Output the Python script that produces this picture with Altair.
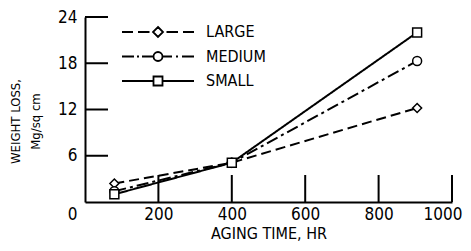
import altair as alt
import pandas as pd

# ---- data ----
series = ["LARGE", "MEDIUM", "SMALL"]
hours = [80, 400, 905]
large = [2.4, 5.1, 12.2]
medium = [1.4, 5.1, 18.3]
small = [1.0, 5.1, 22.0]
x_ticks = [200, 400, 600, 800, 1000]
y_ticks = [6, 12, 18, 24]
y_labels = [0, 6, 12, 18, 24]

# ---- styles ----
shapes = ["diamond", "circle", "square"]
dashes = [[10, 5], [12, 4, 3, 4], [1, 0]]
legend_paths = [
    "M-7.2,0L-5,0M-4,0L-1.7,0M0,-1L1,0L0,1L-1,0ZM1.7,0L4,0M5,0L7.2,0",
    "M-7.2,0L-4.8,0M-4.2,0L-3.8,0M-3.2,0L-0.9,0M0.9,0A0.9,0.9,0,1,1,-0.9,0A0.9,0.9,0,1,1,0.9,0ZM0.9,0L2.8,0M3.6,0L4,0M4.8,0L7.2,0",
    "M-7.2,0L-0.9,0M-0.9,-0.9L0.9,-0.9L0.9,0.9L-0.9,0.9ZM0.9,0L7.2,0",
]
FONT = "DejaVu Sans Condensed"

rows = []
for s, vals, shp in zip(series, [large, medium, small], shapes):
    for h, v in zip(hours, vals):
        rows.append({"series": s, "hours": h, "loss": v, "shape": shp})
df = pd.DataFrame(rows)

W, H = 367, 185

x_enc = alt.X(
    "hours:Q",
    scale=alt.Scale(domain=[0, 1000], nice=False),
    axis=alt.Axis(
        values=x_ticks, format="d", ticks=False, grid=False, domainColor="black", domainWidth=2,
        labelFont=FONT, labelFontSize=17, labelColor="black", labelPadding=4,
        labelFlush=False,
        labelAlign={"condition": {"test": "datum.value == 1000", "value": "right"}, "value": "center"},
        labelOffset={"condition": {"test": "datum.value == 1000", "value": 10}, "value": 0},
        title="AGING TIME, HR", titleFont=FONT, titleFontSize=16,
        titleFontWeight="normal", titleColor="black", titlePadding=3,
    ),
)
y_enc = alt.Y(
    "loss:Q",
    scale=alt.Scale(domain=[0, 24], nice=False),
    axis=alt.Axis(
        values=y_labels, ticks=False, grid=False, domainColor="black", domainWidth=2,
        labelFont=FONT, labelFontSize=17, labelColor="black", labelPadding=8,
        labelOffset={"condition": {"test": "datum.value == 0", "value": 12}, "value": 0},
        title=["WEIGHT LOSS,", "Mg/sq cm"], titleFont=FONT, titleFontSize=13,
        titleFontWeight="normal", titleColor="black", titlePadding=15,
        titleLineHeight=20, titleY=104,
    ),
)

base = alt.Chart(df)

lines = base.mark_line(color="black", strokeWidth=2).encode(
    x=x_enc, y=y_enc,
    strokeDash=alt.StrokeDash("series:N", scale=alt.Scale(domain=series, range=dashes), legend=None),
)

points = base.mark_point(
    filled=True, fill="white", stroke="black", strokeWidth=1.5, size=80, opacity=1
).encode(
    x="hours:Q", y="loss:Q",
    shape=alt.Shape("shape:N", scale=None),
)

legend_layer = base.mark_point(
    filled=False, stroke="black", strokeWidth=1.8, size=100, opacity=1
).encode(
    shape=alt.Shape(
        "series:N",
        scale=alt.Scale(domain=series, range=legend_paths),
        legend=alt.Legend(
            orient="none", legendX=65, legendY=7, title=None,
            symbolSize=100, symbolStrokeWidth=1.8, symbolStrokeColor="black",
            symbolFillColor="transparent", labelFont=FONT, labelFontSize=16,
            labelColor="black", labelOffset=40, rowPadding=6.5, padding=0,
        ),
    )
).transform_filter("false")

xt = alt.Chart(pd.DataFrame({"hours": x_ticks})).mark_rule(color="black", strokeWidth=2).encode(
    x="hours:Q", y=alt.value(H), y2=alt.value(H - 27)
)
yt = alt.Chart(pd.DataFrame({"loss": y_ticks})).mark_rule(color="black", strokeWidth=2).encode(
    y="loss:Q", x=alt.value(0), x2=alt.value(23)
)

chart = alt.layer(lines, xt, yt, points, legend_layer).resolve_scale(
    shape="independent"
).properties(
    width=W, height=H,
    autosize=alt.AutoSizeParams(type="none"),
    padding={"left": 77, "top": 9, "right": 11, "bottom": 41},
).configure_view(stroke=None)

chart.save("out.html", embed_options={"renderer": "svg", "actions": False})
